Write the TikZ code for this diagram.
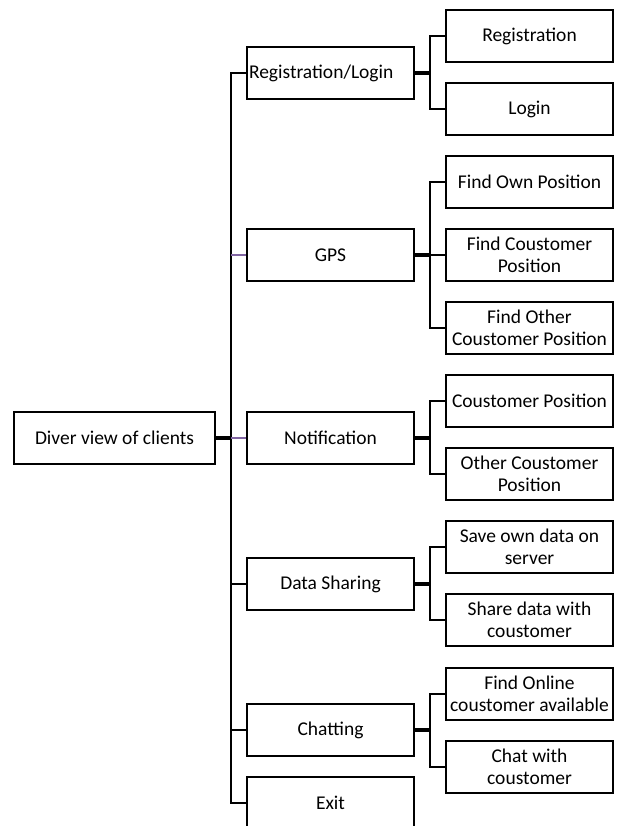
\documentclass[tikz,border=0pt]{standalone}
\usepackage{fontspec}
\setmainfont{Carlito}
\usepackage{xcolor}
\definecolor{linkpurple}{RGB}{128,100,162}

\begin{document}
\begin{tikzpicture}[x=1pt,y=1pt,
        box/.style={draw=black,line width=1.7pt,minimum width=167pt,minimum height=52pt,inner sep=1pt,align=center,font=\fontsize{19.5}{22.5}\selectfont},
        link/.style={black,line width=2.4pt},
        stub/.style={black,line width=3.6pt}]
                \useasboundingbox (0,0) rectangle (616,-826);
                \node [box,minimum width=201pt] (root) at (114.5,-438) {Diver view of clients};
                \node [box,align=left,text width=163pt] (reglogin) at (330.5,-73) {Registration/Login};
                \node [box] (gps) at (330.5,-255) {GPS};
                \node [box] (notif) at (330.5,-438) {Notification};
                \node [box] (datash) at (330.5,-584) {Data Sharing};
                \node [box] (chat) at (330.5,-730) {Chatting};
                \node [box] (exit) at (330.5,-803) {Exit};
                \node [box] (reg) at (529.5,-36) {Registration};
                \node [box] (login) at (529.5,-109) {Login};
                \node [box] (fop) at (529.5,-182) {Find Own Position};
                \node [box] (fcp) at (529.5,-255) {Find Coustomer\\Position};
                \node [box] (focp) at (529.5,-328) {Find Other\\Coustomer Position};
                \node [box] (cp) at (529.5,-401) {Coustomer Position};
                \node [box] (ocp) at (529.5,-474) {Other Coustomer\\Position};
                \node [box] (sod) at (529.5,-547) {Save own data on\\server};
                \node [box] (sdc) at (529.5,-620) {Share data with\\coustomer};
                \node [box] (foc) at (529.5,-694) {Find Online\\coustomer available};
                \node [box] (cwc) at (529.5,-767) {Chat with\\coustomer};
                \coordinate (tr) at (231,0);
                \coordinate (br) at (430,0);
                \draw [stub] (root.east) -- (root.east -| tr);
                \draw [link] (reglogin.west) -- (reglogin.west -| tr) -- (exit.west -| tr) -- (exit.west);
                \draw [link,linkpurple] (gps.west -| tr) -- (gps.west);
                \draw [link,linkpurple] (notif.west -| tr) -- (notif.west);
                \draw [link] (datash.west -| tr) -- (datash.west);
                \draw [link] (chat.west -| tr) -- (chat.west);
                \draw [stub] (reglogin.east) -- (reglogin.east -| br);
                \draw [link] (reg.west) -- (reg.west -| br) |- (login.west);
                \draw [stub] (gps.east) -- (gps.east -| br);
                \draw [link] (fop.west) -- (fop.west -| br) |- (focp.west);
                \draw [link] (fcp.west -| br) -- (fcp.west);
                \draw [stub] (notif.east) -- (notif.east -| br);
                \draw [link] (cp.west) -- (cp.west -| br) |- (ocp.west);
                \draw [stub] (datash.east) -- (datash.east -| br);
                \draw [link] (sod.west) -- (sod.west -| br) |- (sdc.west);
                \draw [stub] (chat.east) -- (chat.east -| br);
                \draw [link] (foc.west) -- (foc.west -| br) |- (cwc.west);
\end{tikzpicture}
\end{document}
